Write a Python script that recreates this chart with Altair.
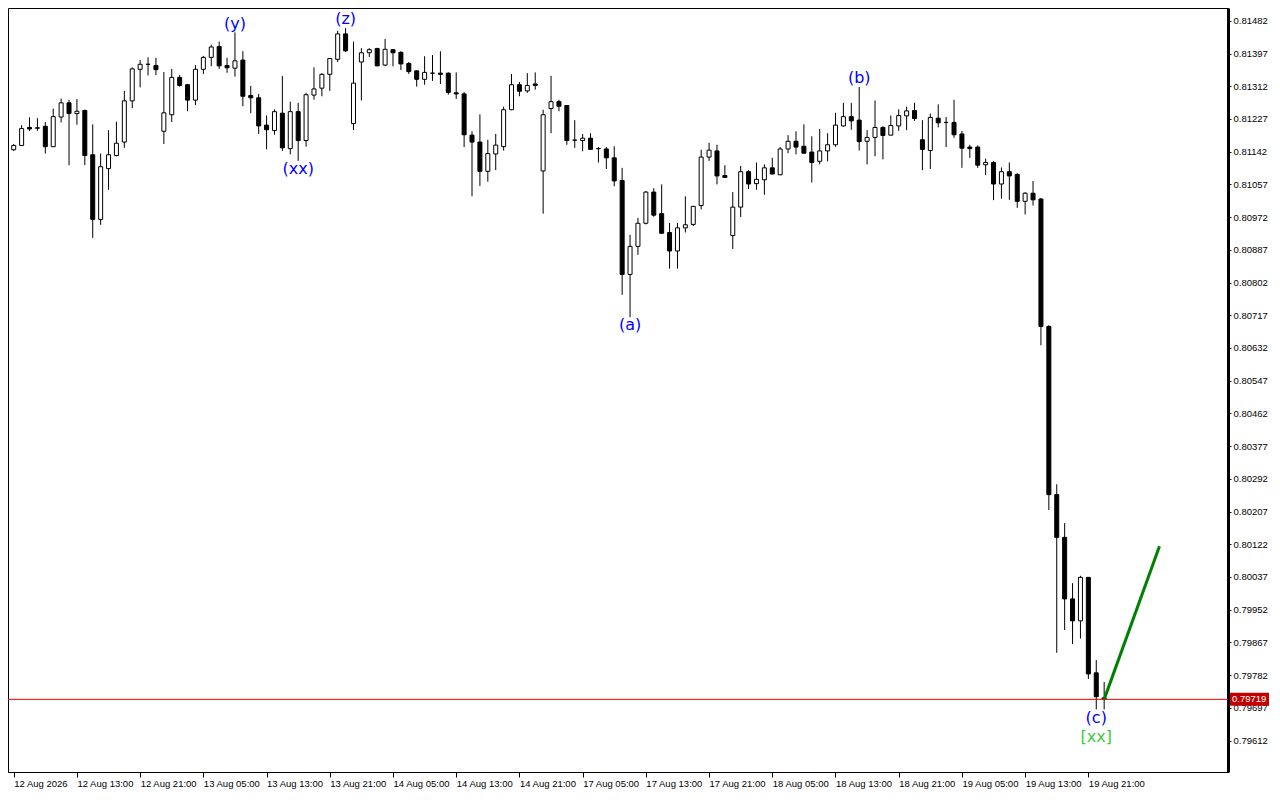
import altair as alt
import pandas as pd

# ---- H1 candles, 12 Aug 05:00 .. 19 Aug 23:00 (bar index 0..138) ----
open_ = [0.81147, 0.81158, 0.81205, 0.81204, 0.81208, 0.81155, 0.81232, 0.81269, 0.81241, 0.81249,
         0.81134, 0.80966, 0.81098, 0.81132, 0.81167, 0.81274, 0.81356, 0.81369, 0.81366, 0.81195,
         0.81238, 0.81335, 0.81316, 0.81276, 0.81356, 0.81387, 0.81415, 0.81366, 0.81359, 0.81380,
         0.81288, 0.81282, 0.81211, 0.81197, 0.81242, 0.81150, 0.81246, 0.81171, 0.81289, 0.81307,
         0.81343, 0.81382, 0.81448, 0.81215, 0.81375, 0.81399, 0.81410, 0.81367, 0.81407, 0.81400,
         0.81371, 0.81352, 0.81330, 0.81346, 0.81346, 0.81346, 0.81295, 0.81292, 0.81185, 0.81167,
         0.81091, 0.81136, 0.81155, 0.81251, 0.81316, 0.81300, 0.81318, 0.81092, 0.81254, 0.81272,
         0.81262, 0.81172, 0.81171, 0.81177, 0.81150, 0.81149, 0.81126, 0.81067, 0.80823, 0.80896,
         0.80956, 0.81037, 0.80981, 0.80932, 0.80884, 0.80944, 0.80953, 0.81002, 0.81128, 0.81144,
         0.81080, 0.80924, 0.80998, 0.81090, 0.81059, 0.81069, 0.81100, 0.81082, 0.81149, 0.81169,
         0.81156, 0.81141, 0.81117, 0.81144, 0.81160, 0.81209, 0.81233, 0.81224, 0.81169, 0.81179,
         0.81205, 0.81185, 0.81209, 0.81235, 0.81249, 0.81173, 0.81145, 0.81229, 0.81218, 0.81218,
         0.81188, 0.81154, 0.81154, 0.81108, 0.81114, 0.81058, 0.81090, 0.81083, 0.81013, 0.81034,
         0.81019, 0.80688, 0.80251, 0.80140, 0.79980, 0.79923, 0.80036, 0.79788, 0.79723]
high = [0.81162, 0.81211, 0.81231, 0.81229, 0.81219, 0.81254, 0.81280, 0.81277, 0.81279, 0.81251,
        0.81213, 0.81137, 0.81198, 0.81220, 0.81300, 0.81361, 0.81380, 0.81387, 0.81386, 0.81349,
        0.81357, 0.81341, 0.81318, 0.81367, 0.81391, 0.81420, 0.81428, 0.81386, 0.81452, 0.81403,
        0.81313, 0.81292, 0.81236, 0.81252, 0.81339, 0.81272, 0.81269, 0.81295, 0.81361, 0.81346,
        0.81385, 0.81456, 0.81463, 0.81428, 0.81411, 0.81411, 0.81412, 0.81435, 0.81408, 0.81403,
        0.81375, 0.81353, 0.81390, 0.81393, 0.81403, 0.81348, 0.81348, 0.81297, 0.81195, 0.81239,
        0.81173, 0.81188, 0.81259, 0.81344, 0.81323, 0.81346, 0.81348, 0.81251, 0.81339, 0.81277,
        0.81263, 0.81224, 0.81188, 0.81190, 0.81154, 0.81154, 0.81156, 0.81100, 0.80926, 0.80970,
        0.81040, 0.81047, 0.81057, 0.80957, 0.80957, 0.81026, 0.81001, 0.81147, 0.81165, 0.81160,
        0.81107, 0.81037, 0.81105, 0.81094, 0.81114, 0.81109, 0.81126, 0.81154, 0.81185, 0.81195,
        0.81213, 0.81182, 0.81201, 0.81190, 0.81243, 0.81269, 0.81269, 0.81310, 0.81198, 0.81275,
        0.81208, 0.81236, 0.81252, 0.81259, 0.81269, 0.81224, 0.81241, 0.81265, 0.81232, 0.81277,
        0.81196, 0.81160, 0.81158, 0.81124, 0.81117, 0.81101, 0.81114, 0.81086, 0.81037, 0.81066,
        0.81022, 0.80691, 0.80278, 0.80177, 0.80021, 0.80040, 0.80037, 0.79821, 0.79764]
low = [0.81144, 0.81157, 0.81196, 0.81196, 0.81137, 0.81154, 0.81218, 0.81107, 0.81212, 0.81107,
       0.80918, 0.80952, 0.81043, 0.81130, 0.81152, 0.81255, 0.81309, 0.81340, 0.81341, 0.81162,
       0.81219, 0.81311, 0.81247, 0.81263, 0.81344, 0.81364, 0.81357, 0.81347, 0.81337, 0.81260,
       0.81242, 0.81188, 0.81148, 0.81186, 0.81144, 0.81135, 0.81118, 0.81155, 0.81277, 0.81286,
       0.81300, 0.81375, 0.81401, 0.81198, 0.81275, 0.81388, 0.81364, 0.81364, 0.81364, 0.81354,
       0.81344, 0.81311, 0.81316, 0.81326, 0.81318, 0.81290, 0.81279, 0.81154, 0.81026, 0.81053,
       0.81064, 0.81094, 0.81145, 0.81250, 0.81286, 0.81295, 0.81303, 0.80981, 0.81190, 0.81247,
       0.81160, 0.81152, 0.81143, 0.81147, 0.81114, 0.81097, 0.81052, 0.80770, 0.80712, 0.80874,
       0.80953, 0.80973, 0.80929, 0.80838, 0.80838, 0.80932, 0.80949, 0.80992, 0.81118, 0.81057,
       0.81074, 0.80889, 0.80972, 0.81045, 0.81043, 0.81030, 0.81083, 0.81081, 0.81138, 0.81135,
       0.81137, 0.81062, 0.81109, 0.81117, 0.81155, 0.81207, 0.81199, 0.81145, 0.81109, 0.81130,
       0.81122, 0.81184, 0.81196, 0.81198, 0.81222, 0.81094, 0.81097, 0.81205, 0.81154, 0.81178,
       0.81100, 0.81126, 0.81100, 0.81081, 0.81016, 0.81020, 0.81017, 0.80996, 0.80979, 0.81002,
       0.80639, 0.80211, 0.79840, 0.79899, 0.79863, 0.79877, 0.79772, 0.79693, 0.79693]
close = [0.81158, 0.81202, 0.81201, 0.81203, 0.81155, 0.81233, 0.81269, 0.81241, 0.81247, 0.81132,
         0.80966, 0.81103, 0.81134, 0.81164, 0.81274, 0.81357, 0.81369, 0.81369, 0.81355, 0.81243,
         0.81335, 0.81314, 0.81276, 0.81356, 0.81387, 0.81414, 0.81365, 0.81360, 0.81378, 0.81286,
         0.81282, 0.81209, 0.81199, 0.81246, 0.81152, 0.81246, 0.81171, 0.81290, 0.81305, 0.81343,
         0.81384, 0.81448, 0.81404, 0.81320, 0.81399, 0.81407, 0.81365, 0.81408, 0.81399, 0.81370,
         0.81350, 0.81330, 0.81348, 0.81346, 0.81343, 0.81296, 0.81292, 0.81186, 0.81167, 0.81091,
         0.81137, 0.81159, 0.81251, 0.81316, 0.81299, 0.81314, 0.81314, 0.81238, 0.81272, 0.81260,
         0.81171, 0.81172, 0.81177, 0.81148, 0.81150, 0.81126, 0.81066, 0.80823, 0.80896, 0.80956,
         0.81037, 0.80977, 0.80930, 0.80884, 0.80944, 0.80952, 0.81000, 0.81128, 0.81146, 0.81079,
         0.81075, 0.80998, 0.81090, 0.81058, 0.81070, 0.81100, 0.81084, 0.81149, 0.81169, 0.81154,
         0.81138, 0.81114, 0.81144, 0.81160, 0.81211, 0.81233, 0.81222, 0.81168, 0.81179, 0.81205,
         0.81184, 0.81210, 0.81236, 0.81248, 0.81228, 0.81148, 0.81231, 0.81217, 0.81218, 0.81186,
         0.81151, 0.81150, 0.81107, 0.81114, 0.81058, 0.81090, 0.81079, 0.81013, 0.81034, 0.81017,
         0.80688, 0.80251, 0.80140, 0.79980, 0.79923, 0.80036, 0.79785, 0.79726, 0.79719]

# ---- axes ----
x_label_bars = [0, 8, 16, 24, 32, 40, 48, 56, 64, 72, 80, 88, 96, 104, 112, 120, 128, 136]
x_labels = ["12 Aug 2026", "12 Aug 13:00", "12 Aug 21:00", "13 Aug 05:00", "13 Aug 13:00",
            "13 Aug 21:00", "14 Aug 05:00", "14 Aug 13:00", "14 Aug 21:00", "17 Aug 05:00",
            "17 Aug 13:00", "17 Aug 21:00", "18 Aug 05:00", "18 Aug 13:00", "18 Aug 21:00",
            "19 Aug 05:00", "19 Aug 13:00", "19 Aug 21:00"]
y_ticks = [0.79612, 0.79697, 0.79782, 0.79867, 0.79952, 0.80037, 0.80122, 0.80207, 0.80292,
           0.80377, 0.80462, 0.80547, 0.80632, 0.80717, 0.80802, 0.80887, 0.80972, 0.81057,
           0.81142, 0.81227, 0.81312, 0.81397, 0.81482]

# ---- annotations ----
wave_text = ["(y)", "(z)", "(xx)", "(a)", "(b)", "(c)", "[xx]"]
wave_bar = [28, 42, 36, 78, 107, 137, 137]
wave_price = [0.81474, 0.81487, 0.81096, 0.80692, 0.81334, 0.79671, 0.79620]
wave_color = ["#0000ff", "#0000ff", "#0000ff", "#0000ff", "#0000ff", "#0000ff", "#3ccc3c"]

current_price = 0.79719
proj_bar = [138, 145]
proj_price = [0.79719, 0.80117]

W, H = 1220, 764
FONT = "Liberation Sans"

candles = pd.DataFrame({"k": list(range(len(open_))), "open": open_, "high": high,
                        "low": low, "close": close})
waves = pd.DataFrame({"k": wave_bar, "price": wave_price, "txt": wave_text, "col": wave_color})
proj = pd.DataFrame({"k": proj_bar, "price": proj_price})
half = 6.5 * (0.815153 - 0.795303) / H
cur = pd.DataFrame({"price": [current_price], "top": [current_price + half],
                    "bot": [current_price - half], "lbl": [f"{current_price:.5f}"]})

xscale = alt.Scale(domain=[-0.09, 153.04], nice=False, zero=False)
yscale = alt.Scale(domain=[0.795303, 0.815153], nice=False, zero=False)

label_expr = ""
for pos, lab in zip(x_label_bars, x_labels):
    label_expr += f"datum.value == {pos} ? '{lab}' : "
label_expr += "''"

x_axis = alt.Axis(values=x_label_bars, labelExpr=label_expr, title=None, grid=False,
                  tickSize=5, tickColor="black", domainColor="black", domainWidth=1,
                  labelAlign="left", labelBaseline="top", labelPadding=1, labelFont=FONT,
                  labelFontSize=9.5, labelColor="black", labelOverlap=False, labelFlush=False,
                  labelBound=False)
y_axis = alt.Axis(values=y_ticks, format=".5f", orient="right", title=None, grid=False,
                  tickSize=3, tickColor="black", domainColor="black", domainWidth=3,
                  labelPadding=2, labelFont=FONT, labelFontSize=9.5, labelColor="black",
                  labelOverlap=False, labelFlush=False, labelBound=False)

X = alt.X("k:Q", scale=xscale, axis=x_axis)

wicks = alt.Chart(candles).mark_rule(color="black", strokeWidth=1).encode(
    x=X, y=alt.Y("low:Q", scale=yscale, axis=y_axis), y2="high:Q")

bodies = alt.Chart(candles).mark_bar(size=4, stroke="black", strokeWidth=1).encode(
    x=X, y=alt.Y("open:Q", scale=yscale, axis=y_axis), y2="close:Q",
    fill=alt.condition("datum.close < datum.open", alt.value("black"), alt.value("white")))

price_line = alt.Chart(cur).mark_rule(stroke="#ff0000", color="#ff0000", strokeWidth=1,
                                      opacity=1).encode(
    y=alt.Y("price:Q", scale=yscale, axis=y_axis))

box = alt.Chart(cur).mark_rect(color="#c40000").encode(
    x=alt.value(W + 2), x2=alt.value(W + 41),
    y=alt.Y("top:Q", scale=yscale, axis=y_axis), y2="bot:Q")

box_text = alt.Chart(cur).mark_text(color="white", align="left", baseline="middle",
                                    font=FONT, fontSize=9.5).encode(
    x=alt.value(W + 4), y=alt.Y("price:Q", scale=yscale, axis=y_axis), text="lbl:N")

proj_line = alt.Chart(proj).mark_line(color="#008000", strokeWidth=3).encode(
    x=X, y=alt.Y("price:Q", scale=yscale, axis=y_axis))

wave_labels = alt.Chart(waves).mark_text(font="DejaVu Sans", fontSize=16,
                                         baseline="middle", align="center").encode(
    x=X, y=alt.Y("price:Q", scale=yscale, axis=y_axis), text="txt:N",
    color=alt.Color("col:N", scale=None))

chart = alt.layer(wicks, bodies, price_line, proj_line, wave_labels, box, box_text).properties(
    width=W, height=H, background="white",
    autosize=alt.AutoSizeParams(type="none"),
    padding={"left": 0, "top": 0, "right": 44, "bottom": 20},
).configure_view(stroke="black", strokeWidth=1)

chart.save("out.html", embed_options={"renderer": "svg", "actions": False})
